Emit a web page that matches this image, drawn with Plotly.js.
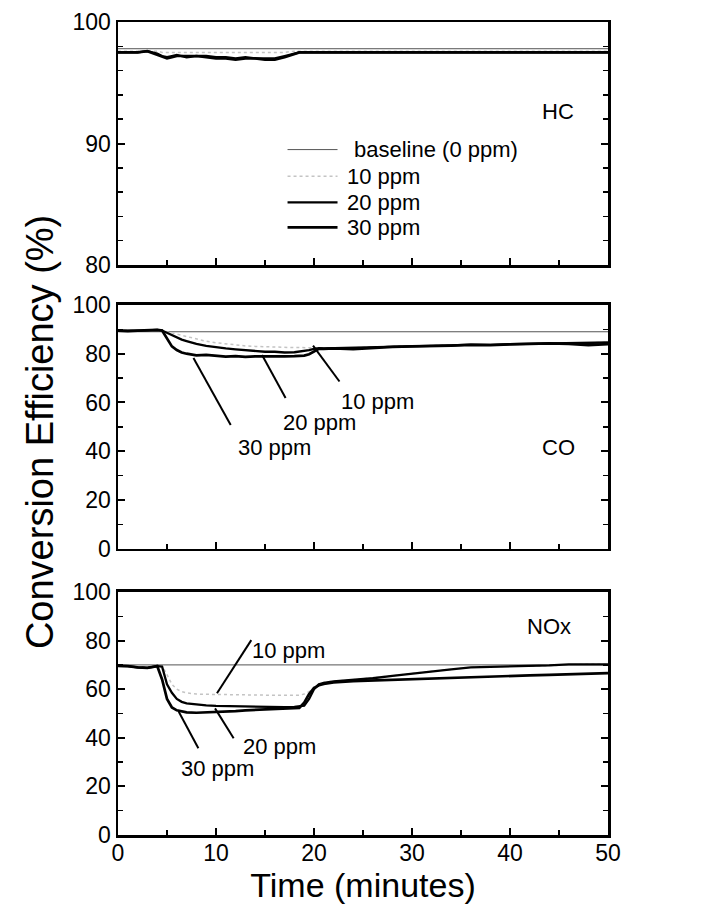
<!DOCTYPE html>
<html>
<head>
<meta charset="utf-8">
<script src="https://cdn.plot.ly/plotly-3.0.1.min.js"></script>
<style>html,body{margin:0;padding:0;background:#fff;}#chart{width:721px;height:915px;}</style>
</head>
<body>
<div id="chart"></div>
<script>
// Shared time axis (minutes)
const time = [0,1,2,3,4, 4.5,5,5.5,6,6.5,7, 8,9,10,11,12,13,14,15,16,17,18, 18.5,19,19.5,20,20.5,21, 22,24,26,28,30,32,34,36,38,40,42,44,46,48,50];

// Baselines (0 ppm)
const baseTime = [0, 50];
const hcBaseline = [97.8, 97.8];
const coBaseline = [89, 89];
const noxBaseline = [70, 70];

// HC conversion efficiency (%)
const hc10 = [97.6,97.6,97.6,97.6,97.6, 97.5,97.5,97.5,97.5,97.5,97.5, 97.5,97.5,97.5,97.5,97.5,97.5,97.5,97.5,97.5,97.5,97.6, 97.6,97.6,97.6,97.6,97.6,97.6, 97.6,97.6,97.6,97.6,97.6,97.6,97.6,97.6,97.6,97.6,97.6,97.6,97.6,97.6,97.6];
const hc20 = [97.5,97.5,97.5,97.6,97.4, 97.2,97.1,97.2,97.3,97.2,97.2, 97.2,97.2,97.1,97.1,97.0,97.1,97.0,97.0,97.0,97.2,97.4, 97.5,97.5,97.5,97.5,97.5,97.5, 97.5,97.5,97.5,97.5,97.5,97.5,97.5,97.5,97.5,97.5,97.5,97.5,97.5,97.5,97.5];
const hc30 = [97.5,97.5,97.5,97.6,97.3, 97.1,97.0,97.1,97.2,97.2,97.1, 97.2,97.1,97.0,97.0,96.9,97.0,97.0,96.9,96.9,97.1,97.4, 97.5,97.5,97.5,97.5,97.5,97.5, 97.5,97.5,97.5,97.5,97.5,97.5,97.5,97.5,97.5,97.5,97.5,97.5,97.5,97.5,97.5];

// CO conversion efficiency (%)
const co10 = [89.5,89.4,89.5,89.6,89.8, 89.5,89.0,88.6,88.1,87.6,87.1, 86.0,85.1,84.5,84.0,83.6,83.2,83.0,82.8,82.7,82.6,82.5, 82.5,82.5,82.5,82.5,82.5,82.4, 82.5,82.4,82.8,83.0,83.2,83.3,83.5,83.7,83.6,83.9,84.1,84.3,84.2,84.6,84.7];
const co20 = [89.5,89.4,89.5,89.6,89.8, 89.5,88.5,87.5,86.5,85.8,85.2, 84.0,83.2,82.6,82.2,81.8,81.5,81.0,80.8,80.8,80.5,80.6, 80.8,81.0,81.5,82.0,82.3,82.2, 82.3,82.2,82.6,82.9,83.1,83.2,83.4,83.7,83.6,83.9,84.1,84.3,84.4,84.7,84.6];
const co30 = [89.5,89.3,89.5,89.6,89.8, 89.5,86.0,83.0,81.5,80.5,80.0, 79.3,79.5,79.0,78.8,79.0,78.7,78.9,78.8,78.8,78.9,79.0, 79.0,79.2,79.8,81.0,82.0,82.0, 82.2,81.9,82.5,82.8,83.0,83.0,83.3,83.6,83.5,83.8,84.0,84.2,84.0,83.5,83.9];

// NOx conversion efficiency (%)
const nox10 = [69.7,69.6,69.3,69.1,69.6, 69.6,66.0,62.0,60.0,59.0,58.5, 58.0,57.9,57.8,57.7,57.7,57.6,57.6,57.5,57.5,57.5,57.5, 57.5,58.0,59.0,61.0,62.2,62.8, 63.3,63.9,64.6,65.5,66.5,67.3,68.2,69.0,69.2,69.5,69.4,69.8,70.2,70.3,70.2];
const nox20 = [69.6,69.5,69.0,68.8,69.5, 69.3,62.0,58.5,56.0,54.8,54.2, 53.6,53.3,53.1,53.0,52.8,52.7,52.6,52.6,52.5,52.6,52.7, 52.9,53.2,56.0,60.0,62.0,62.6, 63.2,63.8,64.5,65.5,66.5,67.3,68.2,69.0,69.2,69.5,69.4,69.8,70.2,70.3,70.2];
const nox30 = [69.6,69.5,69.0,68.8,69.5, 64.0,56.0,52.5,51.3,50.8,50.5, 50.3,50.4,50.6,50.8,51.0,51.3,51.5,51.7,51.8,52.0,52.1, 52.3,54.5,58.0,60.5,61.6,62.2, 62.8,63.3,63.6,63.9,64.1,64.4,64.7,65.0,65.2,65.4,65.7,65.9,66.1,66.4,66.6];

// Legend entries
const seriesNames = ['baseline (0 ppm)', '10 ppm', '20 ppm', '30 ppm'];

const FONT = 'Liberation Sans, Arial, Helvetica, sans-serif';
const styles = [
  {color: '#555', width: 1},
  {color: '#c4c4c4', width: 1.5, dash: 'dot'},
  {color: '#000', width: 2.3},
  {color: '#000', width: 2.7}
];

function panel(xa, ya, base, s10, s20, s30) {
  const ys = [base, s10, s20, s30];
  return ys.map((y, i) => ({
    x: i === 0 ? baseTime : time, y: y, xaxis: xa, yaxis: ya, mode: 'lines',
    line: styles[i], name: seriesNames[i], showlegend: false
  }));
}

const data = [].concat(
  panel('x', 'y', hcBaseline, hc10, hc20, hc30),
  panel('x2', 'y2', coBaseline, co10, co20, co30),
  panel('x3', 'y3', noxBaseline, nox10, nox20, nox30)
);

function xAxis(anchor, labels) {
  return {
    anchor: anchor, domain: [0, 1], range: [0, 50], dtick: 10, tick0: 0,
    ticks: 'inside', ticklen: 7, tickwidth: 2, tickcolor: '#000',
    minor: {dtick: 5, ticks: 'inside', ticklen: 5, tickwidth: 1.5, tickcolor: '#000'},
    showticklabels: labels, showline: true, linewidth: 2.5, linecolor: '#000', mirror: true,
    showgrid: false, zeroline: false, fixedrange: true,
    tickfont: {family: FONT, size: 23, color: '#000'}
  };
}
function yAxis(anchor, domain, range, dtick, mdtick) {
  return {
    anchor: anchor, domain: domain, range: range, dtick: dtick, tick0: 0,
    ticks: 'inside', ticklen: 7, tickwidth: 2, tickcolor: '#000',
    minor: {dtick: mdtick, ticks: 'inside', ticklen: 5, tickwidth: 1.5, tickcolor: '#000'},
    showline: true, linewidth: 2.5, linecolor: '#000', mirror: 'ticks',
    showgrid: false, zeroline: false, fixedrange: true,
    tickfont: {family: FONT, size: 23, color: '#000'}
  };
}

const lab = (text, xref, yref, x, y, anchor) => ({text: text, xref: xref, yref: yref, x: x, y: y, xanchor: anchor || 'center', showarrow: false, font: {family: FONT, size: 22, color: '#000'}});
const ptr = (xref, yref, x0, y0, x1, y1) => ({type: 'line', xref: xref, yref: yref, x0: x0, y0: y0, x1: x1, y1: y1, line: {color: '#000', width: 2}});

// Legend inside HC panel (data coords of that panel)
const legendRows = [89.5, 87.3, 85.15, 83.1];
const legendShapes = legendRows.map((yy, i) => ({
  type: 'line', xref: 'x', yref: 'y', x0: 17.3, x1: 22.4, y0: yy, y1: yy,
  line: Object.assign({}, styles[i])
}));
const legendTexts = legendRows.map((yy, i) => lab(seriesNames[i], 'x', 'y', i === 0 ? 23.9 : 23.2, yy, 'left'));

const layout = {
  width: 721, height: 915,
  margin: {l: 118, r: 113, t: 22, b: 80},
  paper_bgcolor: '#fff', plot_bgcolor: '#fff',
  font: {family: FONT, color: '#000'},
  showlegend: false,
  xaxis: xAxis('y', false),
  xaxis2: xAxis('y2', false),
  xaxis3: Object.assign(xAxis('y3', true), {ticklabelstandoff: -4, title: {text: 'Time (minutes)', font: {family: FONT, size: 34, color: '#000'}, standoff: 2}}),
  yaxis: yAxis('x', [0.7011, 1], [80, 100], 10, 2),
  yaxis2: yAxis('x2', [0.352, 0.652], [0, 100], 20, 10),
  yaxis3: yAxis('x3', [0, 0.2989], [0, 100], 20, 10),
  annotations: [
    lab('HC', 'x', 'y', 44.9, 92.6),
    lab('CO', 'x2', 'y2', 44.9, 41.4),
    lab('10 ppm', 'x2', 'y2', 26.5, 60.4),
    lab('20 ppm', 'x2', 'y2', 20.6, 51.6),
    lab('30 ppm', 'x2', 'y2', 16.0, 41.4),
    lab('NOx', 'x3', 'y3', 44.0, 85.7),
    lab('10 ppm', 'x3', 'y3', 17.4, 76.1),
    lab('20 ppm', 'x3', 'y3', 16.5, 36.3),
    lab('30 ppm', 'x3', 'y3', 10.2, 27.4),
    {text: 'Conversion Efficiency (%)', xref: 'paper', yref: 'paper', x: -0.159, y: 0.4957, xanchor: 'center', yanchor: 'middle', textangle: -90,
     showarrow: false, font: {family: FONT, size: 38, color: '#000'}}
  ].concat(legendTexts),
  shapes: [
    ptr('x2', 'y2', 7.7, 78.2, 11.5, 50.8),
    ptr('x2', 'y2', 14.7, 79.5, 17.1, 61.8),
    ptr('x2', 'y2', 19.9, 83.3, 22.6, 68.6),
    ptr('x3', 'y3', 13.6, 80.2, 10.1, 58.3),
    ptr('x3', 'y3', 11.8, 39.8, 9.9, 52.1),
    ptr('x3', 'y3', 8.2, 35.7, 6.2, 50.7)
  ].concat(legendShapes)
};

Plotly.newPlot('chart', data, layout, {displayModeBar: false, staticPlot: true});
</script>
</body>
</html>
